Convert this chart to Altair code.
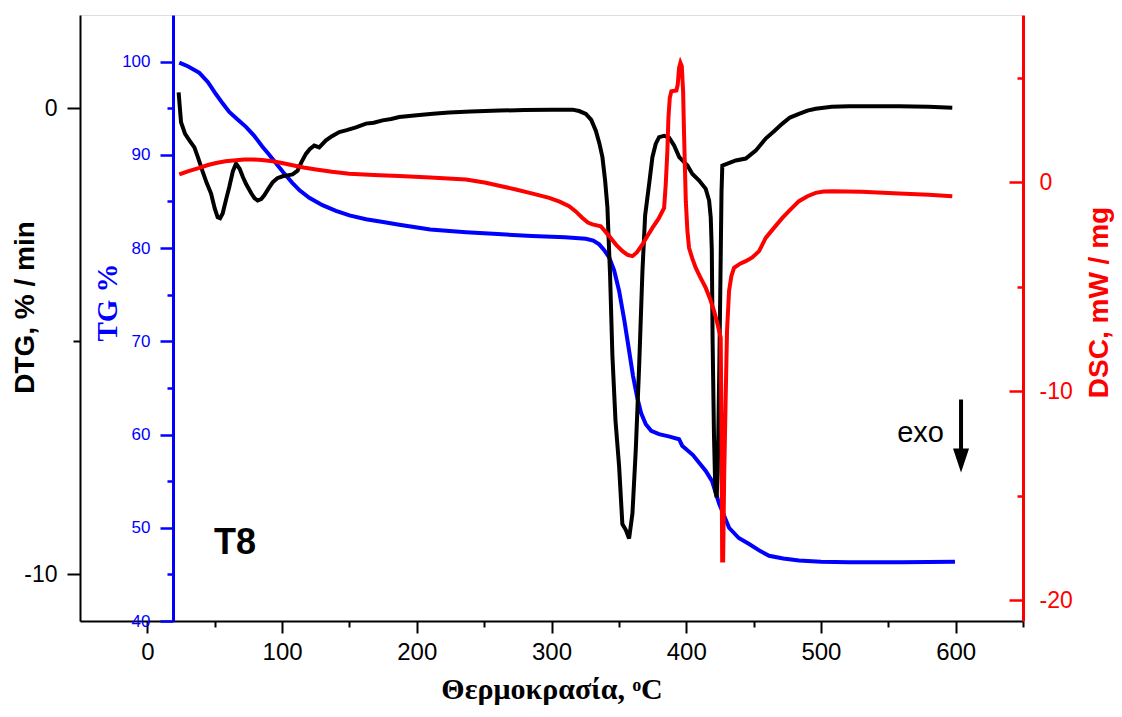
import altair as alt
import pandas as pd

# ---------------- data ----------------
tg_T = [23.7, 30, 38.6, 45, 51.0, 56, 60.8, 67, 73.2, 79, 85.3, 90, 95.5, 101, 107.6, 113, 120.2, 130, 140, 150,
        162.3, 175, 187, 210, 236.5, 260, 285.6, 310, 325.5, 331, 335.4, 339, 342.8, 346.5, 350.2, 354, 357.6,
        360.5, 363.6, 366.5, 370, 374, 379.8, 387, 394.7, 397, 405, 414.5, 419.2, 424.4, 431.8, 439, 446.7, 455,
        461.5, 472, 483.7, 500, 520.8, 560, 599.5]
tg_v = [99.9, 99.5, 98.8, 97.8, 96.5, 95.5, 94.6, 93.8, 93.0, 92.1, 90.9, 90.1, 89.1, 88.1, 87.0, 86.2, 85.4, 84.6,
        84.0, 83.5, 83.1, 82.8, 82.5, 82.0, 81.7, 81.5, 81.3, 81.15, 81.0, 80.8, 80.4, 79.8, 79.0, 77.6, 75.4, 72.3,
        69.0, 66.3, 64.0, 62.3, 61.1, 60.4, 60.05, 59.8, 59.5, 58.8, 57.8, 56.1, 55.0, 52.6, 50.0, 48.9, 48.25, 47.5,
        47.0, 46.7, 46.5, 46.35, 46.3, 46.3, 46.35]

dtg_T = [23.2, 25.0, 28, 31.2, 34.9, 37.5, 40.8, 44, 47.3, 50, 52.2, 54, 55.9, 58.5, 60.8, 63.5, 65.8, 68.5, 71,
         73.2, 77, 79.5, 81.8, 84.5, 86.8, 90, 93.0, 96.5, 100.4, 104, 107.8, 111.5, 114.5, 117.7, 120.5, 123.9,
         127.6, 132.6, 137, 142.5, 148, 154.8, 162.3, 168, 174.6, 181, 187, 200, 212, 224, 240, 261.2, 280, 300,
         315.6, 320.5, 325.5, 329.5, 332.9, 335.5, 337.8, 339.8, 341.5, 343.5, 345.2, 347.5, 350.2, 352.6, 355.2,
         357.6, 360.1, 362.6, 365.1, 367.5, 369.5, 372.5, 374.9, 377.4, 379.9, 383.6, 387.3, 391.0, 394.8, 397.2,
         400.9, 404.6, 409.6, 414.5, 417.0, 418.2, 419.0, 419.6, 420.6, 421.6, 422.6, 423.4, 424.6, 425.6, 426.2,
         426.8, 430.6, 436.8, 444.2, 451.6, 459.0, 465, 471.4, 477, 483.7, 490, 496.1, 508, 520.8, 540, 558, 580,
         597.5]
dtg_v = [0.34, -0.30, -0.55, -0.69, -0.84, -1.05, -1.34, -1.6, -1.83, -2.15, -2.34, -2.36, -2.26, -1.95, -1.69,
         -1.35, -1.19, -1.3, -1.48, -1.62, -1.82, -1.93, -1.98, -1.95, -1.87, -1.72, -1.59, -1.5, -1.46, -1.44,
         -1.42, -1.34, -1.15, -0.98, -0.88, -0.80, -0.84, -0.69, -0.6, -0.51, -0.47, -0.41, -0.33, -0.31, -0.26,
         -0.23, -0.19, -0.15, -0.12, -0.09, -0.07, -0.05, -0.04, -0.03, -0.03, -0.06, -0.12, -0.25, -0.48, -0.75,
         -1.05, -1.55, -2.12, -3.6, -5.3, -6.7, -7.69, -8.92, -9.05, -9.23, -8.69, -7.3, -5.5, -3.5, -2.3, -1.62,
         -1.05, -0.76, -0.62, -0.59, -0.63, -0.80, -1.05, -1.12, -1.23, -1.41, -1.55, -1.73, -1.98, -2.34, -3.05,
         -5.0, -7.0, -8.2, -8.35, -7.8, -5.5, -3.2, -1.8, -1.23, -1.19, -1.12, -1.08, -0.91, -0.65, -0.5, -0.33,
         -0.2, -0.12, -0.05, -0.01, 0.03, 0.04, 0.04, 0.04, 0.03, 0.01]

dsc_T = [23.7, 30, 38.6, 45, 51.0, 58, 65.8, 72, 78.1, 85, 93.0, 100, 107.8, 116, 125.2, 137, 149.9, 168, 187,
         210, 236.5, 251.3, 262, 273.6, 286, 298.3, 306, 313.1, 318, 323.0, 327, 330.4, 336.6, 342.8, 348, 352.7,
         356.5, 360.1, 363.5, 367.5, 371, 374.9, 379.5, 383.6, 384.8, 386.0, 386.8, 387.8, 389.0, 392.7, 393.7,
         394.7, 395.7, 396.7, 397.7, 398.4, 399.7, 400.9, 402.1, 404.5, 407.1, 410.5, 414.5, 417.5, 420.7, 423.3,
         425.6, 426.2, 426.7, 427.4, 428.2, 429.3, 430.3, 431.8, 433.5, 435.5, 440, 444.2, 449, 454.1, 459.0, 465,
         471.4, 477.5, 483.7, 490, 496.1, 502, 508.5, 530, 558, 580, 597.5]
dsc_v = [0.37, 0.52, 0.68, 0.82, 0.92, 1.0, 1.05, 1.08, 1.09, 1.06, 1.00, 0.92, 0.81, 0.7, 0.61, 0.5, 0.40, 0.34,
         0.29, 0.22, 0.13, -0.03, -0.18, -0.35, -0.55, -0.75, -0.93, -1.15, -1.4, -1.71, -1.93, -2.02, -2.11, -2.58,
         -3.0, -3.30, -3.48, -3.54, -3.35, -2.98, -2.6, -2.19, -1.75, -1.23, -0.11, 1.48, 3.08, 4.04, 4.35, 4.39,
         4.67, 5.47, 5.71, 5.55, 4.35, 2.28, -0.91, -2.34, -3.14, -3.65, -4.10, -4.55, -5.06, -5.55, -6.17, -6.8,
         -7.45, -12.0, -18.1, -18.1, -14.0, -10.3, -7.1, -5.2, -4.5, -4.10, -3.9, -3.78, -3.6, -3.30, -2.67, -2.2,
         -1.71, -1.3, -0.91, -0.67, -0.51, -0.45, -0.43, -0.46, -0.54, -0.6, -0.67]

# axis tick values
x_major = [0, 100, 200, 300, 400, 500, 600]
x_minor = [50, 150, 250, 350, 450, 550, 650]
dtg_major = [0, -10]
dtg_minor = [-5]
tg_major = [40, 50, 60, 70, 80, 90, 100]
tg_minor = [45, 55, 65, 75, 85, 95]
dsc_major = [0, -10, -20]
dsc_minor = [5, -5, -15]

# annotations
t8_label = ["T8"]
t8_T = [65]
t8_dtg = [-9.33]
exo_label = ["exo"]
exo_T = [574]
exo_dsc = [-12.0]
arrow_T = [604]
arrow_top = [-10.4]
arrow_bottom = [-12.9]
arrow_head = [-13.2]

x_domain = [-50, 650]
dtg_domain = [-11, 2]
tg_domain = [40, 105]
dsc_domain = [-21, 8]

# ---------------- frames ----------------
tg_df = pd.DataFrame({"T": tg_T, "v": tg_v, "i": range(len(tg_T))})
dtg_df = pd.DataFrame({"T": dtg_T, "v": dtg_v, "i": range(len(dtg_T))})
dsc_df = pd.DataFrame({"T": dsc_T, "v": dsc_v, "i": range(len(dsc_T))})
t8_df = pd.DataFrame({"T": t8_T, "v": t8_dtg, "label": t8_label})
exo_df = pd.DataFrame({"T": exo_T, "v": exo_dsc, "label": exo_label})
arrow_df = pd.DataFrame({"T": arrow_T, "v": arrow_top, "v2": arrow_bottom, "h": arrow_head})

SANS = "Liberation Sans"
SERIF = "Liberation Serif"
neg_expr = "datum.value < 0 ? '-' + abs(datum.value) : '' + datum.value"

xs = alt.Scale(domain=x_domain, nice=False, zero=False)
dtg_s = alt.Scale(domain=dtg_domain, nice=False, zero=False)
tg_s = alt.Scale(domain=tg_domain, nice=False, zero=False)
dsc_s = alt.Scale(domain=dsc_domain, nice=False, zero=False)

x_none = alt.X("T:Q", scale=xs, axis=None)
x_main = alt.X("T:Q", scale=xs, axis=alt.Axis(
    orient="bottom", values=x_major, tickSize=12, tickWidth=2, tickColor="black",
    domainColor="black", domainWidth=2, labelFont=SANS, labelFontSize=24, labelColor="black",
    labelPadding=7, grid=False, labelFlush=False,
    title="Θερμοκρασία, ᵒC", titleFont=SERIF, titleFontSize=30, titleFontWeight="bold",
    titleColor="black", titleX=471.5, titleY=77, titleAlign="center", titleBaseline="alphabetic"))
x_min = alt.X("T:Q", scale=xs, axis=alt.Axis(
    orient="bottom", values=x_minor, tickSize=6, tickWidth=2, tickColor="black",
    domain=False, labels=False, grid=False, title=""))

dtg_axis = alt.Axis(orient="left", values=dtg_major, tickSize=13, tickWidth=2, tickColor="black",
                    domainColor="black", domainWidth=2, labelFont=SANS, labelFontSize=23,
                    labelColor="black", labelPadding=10, labelExpr=neg_expr, grid=False,
                    title="DTG, % / min", titleFont=SANS, titleFontSize=28, titleFontWeight="bold",
                    titleColor="black", titleAngle=270, titleX=-55, titleY=292,
                    titleAlign="center", titleBaseline="middle")
dtg_min_axis = alt.Axis(orient="left", values=dtg_minor, tickSize=7, tickWidth=2, tickColor="black",
                        domain=False, labels=False, grid=False, title="")

tg_axis = alt.Axis(orient="left", offset=-93, values=tg_major, tickSize=13, tickWidth=2.5,
                   tickColor="blue", domainColor="blue", domainWidth=3, labelFont=SANS,
                   labelFontSize=17, labelColor="blue", labelPadding=10, grid=False, labelFlush=False,
                   title="TG %", titleFont=SERIF, titleFontSize=29, titleFontWeight="bold",
                   titleColor="blue", titleAngle=270, titleX=-66, titleY=287,
                   titleAlign="center", titleBaseline="middle")
tg_min_axis = alt.Axis(orient="left", offset=-93, values=tg_minor, tickSize=6, tickWidth=2.5,
                       tickColor="blue", domain=False, labels=False, grid=False, title="")

dsc_axis = alt.Axis(orient="right", values=dsc_major, ticks=False, domainColor="red", domainWidth=3,
                    labelFont=SANS, labelFontSize=23, labelColor="red", labelPadding=16,
                    labelExpr=neg_expr, grid=False,
                    title="DSC, mW / mg", titleFont=SANS, titleFontSize=28, titleFontWeight="bold",
                    titleColor="red", titleAngle=270, titleX=76, titleY=287,
                    titleAlign="center", titleBaseline="middle")
dsc_tick_axis = alt.Axis(orient="right", offset=-14, values=dsc_major, tickSize=14, tickWidth=2.5,
                         tickColor="red", domain=False, labels=False, grid=False, title="")
dsc_min_axis = alt.Axis(orient="right", offset=-6, values=dsc_minor, tickSize=6, tickWidth=2.5,
                        tickColor="red", domain=False, labels=False, grid=False, title="")

tg_line = alt.Chart(tg_df).mark_line(color="blue", strokeWidth=4).encode(
    x=x_none, y=alt.Y("v:Q", scale=tg_s, axis=tg_axis), order="i:Q")
tg_minor_l = alt.Chart(tg_df).mark_line(opacity=0).encode(
    x=x_none, y=alt.Y("v:Q", scale=tg_s, axis=tg_min_axis), order="i:Q")

dtg_line = alt.Chart(dtg_df).mark_line(color="black", strokeWidth=4).encode(
    x=x_main, y=alt.Y("v:Q", scale=dtg_s, axis=dtg_axis), order="i:Q")
dtg_minor_l = alt.Chart(dtg_df).mark_line(opacity=0).encode(
    x=x_min, y=alt.Y("v:Q", scale=dtg_s, axis=dtg_min_axis), order="i:Q")

dsc_line = alt.Chart(dsc_df).mark_line(color="red", strokeWidth=4).encode(
    x=x_none, y=alt.Y("v:Q", scale=dsc_s, axis=dsc_axis), order="i:Q")
dsc_ticks_l = alt.Chart(dsc_df).mark_line(opacity=0).encode(
    x=x_none, y=alt.Y("v:Q", scale=dsc_s, axis=dsc_tick_axis), order="i:Q")
dsc_minor_l = alt.Chart(dsc_df).mark_line(opacity=0).encode(
    x=x_none, y=alt.Y("v:Q", scale=dsc_s, axis=dsc_min_axis), order="i:Q")

t8_text = alt.Chart(t8_df).mark_text(font=SANS, fontSize=36, fontWeight="bold", color="black",
                                      align="center", baseline="middle").encode(
    x=x_none, y=alt.Y("v:Q", scale=dtg_s, axis=None), text="label:N")
exo_text = alt.Chart(exo_df).mark_text(font=SANS, fontSize=29, color="black",
                                        align="center", baseline="middle").encode(
    x=x_none, y=alt.Y("v:Q", scale=dsc_s, axis=None), text="label:N")
arrow_rule = alt.Chart(arrow_df).mark_rule(color="black", strokeWidth=4).encode(
    x=x_none, y=alt.Y("v:Q", scale=dsc_s, axis=None), y2="v2:Q")
arrow_head_l = alt.Chart(arrow_df).mark_point(shape="M-1,-1.2L1,-1.2L0,1.8Z", filled=True, size=256,
                                              color="black", opacity=1, strokeWidth=0).encode(
    x=x_none, y=alt.Y("h:Q", scale=dsc_s, axis=None))

chart = alt.layer(
    tg_line, tg_minor_l, dtg_line, dtg_minor_l, dsc_line, dsc_ticks_l, dsc_minor_l,
    t8_text, exo_text, arrow_rule, arrow_head_l
).resolve_scale(y="independent").resolve_axis(x="independent", y="independent").properties(
    width=943, height=606,
    autosize=alt.AutoSizeParams(type="none"),
    padding={"left": 72, "top": 7, "right": 91, "bottom": 86},
).configure_view(stroke=None).configure(background="white")

chart.save("out.html", embed_options={"renderer": "svg", "actions": False})
